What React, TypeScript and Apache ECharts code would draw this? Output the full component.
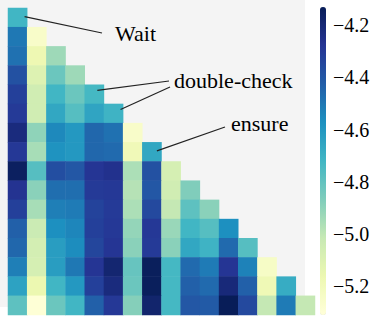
import React, { useEffect, useRef } from "react";
import * as echarts from "echarts";

const cellIndex = ["0", "1", "2", "3", "4", "5", "6", "7", "8", "9", "10", "11", "12", "13", "14", "15"];

const row00 = [-4.72];
const row01 = [-4.5, -5.25];
const row02 = [-4.48, -5.17, -4.93];
const row03 = [-4.38, -5.1, -4.82, -4.93];
const row04 = [-4.32, -5.05, -4.72, -4.82, -4.73];
const row05 = [-4.3, -5.05, -4.66, -4.77, -4.65, -4.71];
const row06 = [-4.22, -4.9, -4.55, -4.6, -4.45, -4.48, -5.25];
const row07 = [-4.29, -4.95, -4.58, -4.6, -4.45, -4.46, -5.19, -4.66];
const row08 = [-4.15, -4.77, -4.37, -4.4, -4.28, -4.26, -4.96, -4.38, -5.07];
const row09 = [-4.27, -4.89, -4.47, -4.47, -4.3, -4.29, -4.98, -4.4, -5.05, -4.87];
const row10 = [-4.32, -4.95, -4.52, -4.51, -4.33, -4.3, -4.96, -4.35, -5.01, -4.79, -4.89];
const row11 = [-4.43, -5.03, -4.57, -4.54, -4.32, -4.29, -4.91, -4.29, -4.92, -4.72, -4.77, -4.57];
const row12 = [-4.45, -5.06, -4.62, -4.56, -4.34, -4.28, -4.89, -4.3, -4.89, -4.66, -4.71, -4.46, -4.77];
const row13 = [-4.52, -5.07, -4.62, -4.5, -4.28, -4.19, -4.81, -4.14, -4.73, -4.46, -4.51, -4.28, -4.53, -5.24];
const row14 = [-4.64, -5.16, -4.72, -4.6, -4.32, -4.22, -4.82, -4.14, -4.73, -4.43, -4.46, -4.21, -4.43, -5.18, -4.68];
const row15 = [-4.79, -5.3, -4.82, -4.72, -4.43, -4.29, -4.88, -4.18, -4.73, -4.4, -4.41, -4.13, -4.35, -5.01, -4.51, -5.01];
const rows = [row00, row01, row02, row03, row04, row05, row06, row07, row08, row09, row10, row11, row12, row13, row14, row15];

const colorMin = -5.31;
const colorMax = -4.13;
const colorbarTicks = [-5.2, -5.0, -4.8, -4.6, -4.4, -4.2];
const ylgnbu = ["#ffffd9", "#edf8b1", "#c7e9b4", "#7fcdbb", "#41b6c4", "#1d91c0", "#225ea8", "#253494", "#081d58"];

const annotations = [
  { label: "Wait", text: [115, 33], links: [{ cell: [0, 0], off: [7, -1], end: [102, 33] }] },
  {
    label: "double-check",
    text: [174, 80],
    links: [
      { cell: [4, 4], off: [3, -4], end: [169, 81] },
      { cell: [5, 5], off: [7, -4], end: [170, 87] },
    ],
  },
  { label: "ensure", text: [231, 123], links: [{ cell: [7, 7], off: [5, -1], end: [225, 127] }] },
];

const serif = "Liberation Serif, Times New Roman, Times, serif";

function fmt(v: number) {
  return (v < 0 ? "\u2212" : "") + Math.abs(v).toFixed(1);
}

export default function App() {
  const ref = useRef<HTMLDivElement>(null);
  useEffect(() => {
    document.body.style.margin = "0";
    if (!ref.current) return;
    const chart = echarts.init(ref.current, undefined, { renderer: "svg" });
    const data: [number, number, number][] = [];
    rows.forEach((r, ri) => r.forEach((v, ci) => data.push([ci, ri, v])));
    chart.setOption({
      animation: false,
      backgroundColor: "#ffffff",
      textStyle: { fontFamily: serif },
      grid: [
        { left: 8, top: 8, width: 307, height: 307 },
        { left: 320, top: 7, width: 6, height: 308 },
      ],
      xAxis: [
        { type: "category", data: cellIndex, gridIndex: 0, show: false },
        { type: "value", gridIndex: 1, show: false, min: 0, max: 1 },
      ],
      yAxis: [
        { type: "category", data: cellIndex, gridIndex: 0, inverse: true, show: false },
        {
          type: "value",
          gridIndex: 1,
          position: "right",
          min: colorMin,
          max: colorMax,
          axisLine: { show: false },
          splitLine: { show: false },
          axisTick: { show: true, customValues: colorbarTicks, length: 3, lineStyle: { color: "#222", width: 1 } },
          axisLabel: {
            customValues: colorbarTicks,
            formatter: (v: number) => fmt(v),
            margin: 7,
            color: "#000",
            fontFamily: serif,
            fontSize: 20,
          },
        },
      ],
      visualMap: {
        type: "continuous",
        min: colorMin,
        max: colorMax,
        seriesIndex: 0,
        dimension: 2,
        orient: "vertical",
        left: 320,
        top: 7,
        itemWidth: 6,
        itemHeight: 308,
        padding: 0,
        calculable: false,
        hoverLink: false,
        realtime: false,
        inRange: { color: ylgnbu },
      },
      series: [
        {
          type: "heatmap",
          xAxisIndex: 0,
          yAxisIndex: 0,
          data,
          itemStyle: { borderWidth: 0 },
          emphasis: { disabled: true },
          progressive: 0,
        },
      ],
    });
    const graphics: any[] = [
      { type: "rect", z: -10, zlevel: 0, shape: { x: 0, y: 0, width: 305, height: 307 }, style: { fill: "#f4f4f4" }, silent: true },
    ];
    annotations.forEach((a) => {
      a.links.forEach((l) => {
        const p = chart.convertToPixel({ xAxisIndex: 0, yAxisIndex: 0 }, l.cell) as number[];
        graphics.push({
          type: "line",
          z: 100,
          shape: { x1: p[0] + l.off[0], y1: p[1] + l.off[1], x2: l.end[0], y2: l.end[1] },
          style: { stroke: "#222", lineWidth: 1.2 },
        });
      });
      graphics.push({
        type: "text",
        z: 100,
        x: a.text[0],
        y: a.text[1],
        style: { text: a.label, fill: "#000", fontFamily: serif, fontSize: 22, align: "left", verticalAlign: "middle" },
      });
    });
    chart.setOption({ graphic: graphics });
    return () => chart.dispose();
  }, []);
  return <div ref={ref} style={{ width: 379, height: 323 }} />;
}
